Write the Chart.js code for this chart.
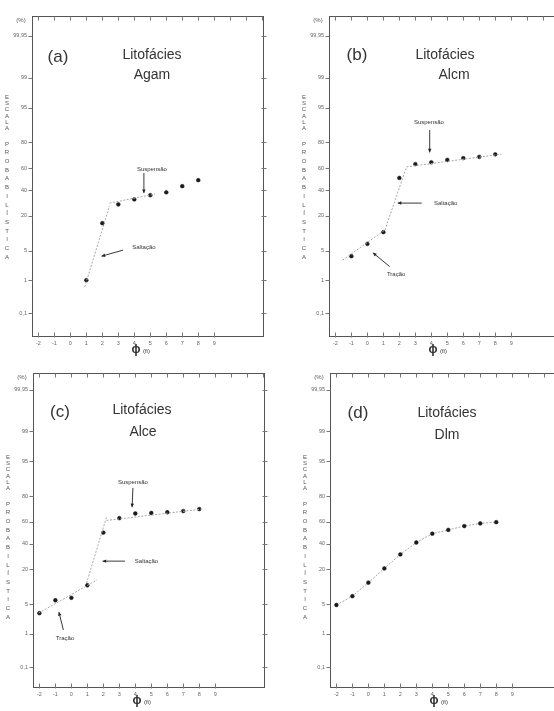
<!DOCTYPE html>
<html>
<head>
<meta charset="utf-8">
<title>Litofácies - escala probabilística</title>
<script src="https://cdn.jsdelivr.net/npm/chart.js@4.4.1/dist/chart.umd.min.js"></script>
<style>
	body{margin:0;background:#fff;font-family:"Liberation Sans",Arial,sans-serif;}
	#page{position:relative;width:554px;height:711px;overflow:hidden;background:#fff;}
	canvas{position:absolute;}
</style>
</head>
<body>
<div id="page">
	<canvas id="cA" width="280" height="360" style="left:0px;top:0px"></canvas>
	<canvas id="cB" width="280" height="360" style="left:297px;top:0px"></canvas>
	<canvas id="cC" width="280" height="354" style="left:1px;top:357px"></canvas>
	<canvas id="cD" width="280" height="354" style="left:298px;top:357px"></canvas>
</div>
<script>
// eixo x (phi) e eixo y (percentual acumulado, escala probabilistica)
const xTicks = [-2,-1,0,1,2,3,4,5,6,7,8,9];
const topTicks = [-2,-1,0,1,2,3,4,5,6,7,8,9,10,11,12];
const yTickPct = [0.1,1,5,20,40,60,80,95,99,99.95];
const yTickLabels = ['0,1','1','5','20','40','60','80','95','99','99,95'];

// (a) Agam
const phiA = [1,2,3,4,5,6,7,8];
const pctA = [1.0,15.5,28,32,35.5,38,43.5,49];
// (b) Alcm
const phiB = [-1,0,1,2,3,4,5,6,7,8];
const pctB = [3.8,6.8,11.1,51,63.5,65,67,68.5,69.5,71.5];
// (c) Alce
const phiC = [-2,-1,0,1,2,3,4,5,6,7,8];
const pctC = [3.2,6,6.7,11.3,50,63,67,67.4,68,69,70.6];
// (d) Dlm
const phiD = [-2,-1,0,1,2,3,4,5,6,7,8];
const pctD = [4.8,7.2,12.5,20.5,30.8,41,49,52.5,56,58.4,59.5];

// segmentos de ajuste [phi, %]
const fitA = [[[0.9,0.65],[2.45,27]], [[2.45,29],[5.3,36.5]]];
const fitB = [[[-1.55,3.1],[1.1,12.1]], [[1.1,12.1],[2.45,61]], [[2.45,61],[8.4,71.7]]];
const fitC = [[[-2.05,3.2],[1.6,13.8]], [[0.95,12.3],[2.2,64]], [[2.2,61],[8.1,70.5]]];

// inverse normal (Acklam)
function probit(p){
	p = p/100;
	var a=[-39.69683028665376,220.9460984245205,-275.9285104469687,138.3577518672690,-30.66479806614716,2.506628277459239];
	var b=[-54.47609879822406,161.5858368580409,-155.6989798598866,66.80131188771972,-13.28068155288572];
	var c=[-0.007784894002430293,-0.3223964580411365,-2.400758277161838,-2.549732539343734,4.374664141464968,2.938163982698783];
	var d=[0.007784695709041462,0.3224671290700398,2.445134137142996,3.754408661907416];
	var q,r;
	if(p<0.02425){
		q=Math.sqrt(-2*Math.log(p));
		return (((((c[0]*q+c[1])*q+c[2])*q+c[3])*q+c[4])*q+c[5])/((((d[0]*q+d[1])*q+d[2])*q+d[3])*q+1);
	}else if(p>1-0.02425){
		q=Math.sqrt(-2*Math.log(1-p));
		return -(((((c[0]*q+c[1])*q+c[2])*q+c[3])*q+c[4])*q+c[5])/((((d[0]*q+d[1])*q+d[2])*q+d[3])*q+1);
	}
	q=p-0.5;r=q*q;
	return (((((a[0]*r+a[1])*r+a[2])*r+a[3])*r+a[4])*r+a[5])*q/(((((b[0]*r+b[1])*r+b[2])*r+b[3])*r+b[4])*r+1);
}

const FONT = '"Liberation Sans",Arial,sans-serif';

// moldura, marcas e textos
const frame = {
	id:'frame',
	afterDraw(chart, args, o){
		var ctx=chart.ctx, a=chart.chartArea, x=chart.scales.x, y=chart.scales.y;
		var L=Math.round(a.left)+0.5, R=Math.round(a.right)+0.5, T=Math.round(a.top)+0.5, B=Math.round(a.bottom)+0.5;
		ctx.save();
		ctx.strokeStyle='#555';ctx.lineWidth=1;
		ctx.strokeRect(L,T,R-L,B-T);
		ctx.strokeStyle='#777';
		ctx.beginPath();
		topTicks.forEach(function(v){var px=Math.round(x.getPixelForValue(v))+0.5;ctx.moveTo(px,T);ctx.lineTo(px,T+4);});
		xTicks.forEach(function(v){var px=Math.round(x.getPixelForValue(v))+0.5;ctx.moveTo(px,B-4);ctx.lineTo(px,B+1);});
		yTickPct.forEach(function(p){var py=Math.round(y.getPixelForValue(probit(p)))+0.5;ctx.moveTo(L-4,py);ctx.lineTo(L,py);ctx.moveTo(R-2,py);ctx.lineTo(R+3,py);});
		ctx.stroke();

		ctx.fillStyle='#555';ctx.textAlign='center';ctx.textBaseline='middle';
		ctx.font='6px '+FONT;
		ctx.fillText('(%)',a.left-11,a.top+4);
		// titulo vertical
		var lx=a.left-25;
		'ESCALA'.split('').forEach(function(ch,i){ctx.fillText(ch,lx,a.top+o.y1+i*6.3);});
		'PROBABILÍSTICA'.split('').forEach(function(ch,i){ctx.fillText(ch,lx,a.top+o.y2+i*8.7);});
		// titulo x
		var cx=x.getPixelForValue(4.1);
		ctx.fillStyle='#333';ctx.font='bold 12px '+FONT;
		ctx.fillText('ϕ',cx,a.bottom+14);
		ctx.font='6px '+FONT;ctx.textAlign='left';
		ctx.fillText('(fi)',cx+7,a.bottom+15);

		// cabecalho do painel
		ctx.fillStyle='#333';ctx.textAlign='center';
		ctx.font='17px '+FONT;
		ctx.fillText(o.tag,a.left+o.tagPos[0],a.top+o.tagPos[1]);
		ctx.font='14px '+FONT;
		ctx.fillText('Litofácies',a.left+o.t1[0],a.top+o.t1[1]);
		ctx.fillText(o.name,a.left+o.t2[0],a.top+o.t2[1]);

		// anotacoes
		ctx.font='6px '+FONT;ctx.fillStyle='#333';
		(o.notes||[]).forEach(function(n){
			ctx.fillText(n.text,x.getPixelForValue(n.at[0]),y.getPixelForValue(probit(n.at[1])));
			var x1=x.getPixelForValue(n.from[0]),y1=y.getPixelForValue(probit(n.from[1]));
			var x2=x.getPixelForValue(n.to[0]),y2=y.getPixelForValue(probit(n.to[1]));
			ctx.strokeStyle='#222';ctx.lineWidth=0.9;
			ctx.beginPath();ctx.moveTo(x1,y1);ctx.lineTo(x2,y2);ctx.stroke();
			var ang=Math.atan2(y2-y1,x2-x1);
			ctx.beginPath();
			ctx.moveTo(x2,y2);
			ctx.lineTo(x2-4*Math.cos(ang-0.45),y2-4*Math.sin(ang-0.45));
			ctx.lineTo(x2-4*Math.cos(ang+0.45),y2-4*Math.sin(ang+0.45));
			ctx.closePath();ctx.fillStyle='#222';ctx.fill();ctx.fillStyle='#333';
		});
		ctx.restore();
	}
};

function makePanel(id, phi, pct, fits, yMin, yMax, opts, joinPoints){
	var datasets=[];
	(fits||[]).forEach(function(seg){
		datasets.push({
			data:seg.map(function(p){return {x:p[0],y:probit(p[1])};}),
			showLine:true,borderColor:'#a8a8a8',borderWidth:1,borderDash:[2,1.5],pointRadius:0
		});
	});
	datasets.push({
		data:phi.map(function(v,i){return {x:v,y:probit(pct[i])};}),
		showLine:!!joinPoints,borderColor:'#a8a8a8',borderWidth:1,borderDash:[2,1.5],
		pointRadius:1.9,pointBackgroundColor:'#1a1a1a',pointBorderColor:'#1a1a1a',pointBorderWidth:0.5
	});
	return new Chart(document.getElementById(id),{
		type:'scatter',
		data:{datasets:datasets},
		plugins:[frame],
		options:{
			responsive:false,animation:false,
			layout:{padding:{top:16,right:17,left:0,bottom:0}},
			plugins:{legend:{display:false},tooltip:{enabled:false},frame:opts},
			scales:{
				x:{type:'linear',min:-2.4,max:12.05,
					grid:{display:false,drawTicks:false},border:{display:false},
					afterBuildTicks:function(s){s.ticks=xTicks.map(function(v){return {value:v};});},
					afterFit:function(s){s.height=24;},
					ticks:{font:{size:5.5,family:FONT},color:'#666',padding:4,maxRotation:0,autoSkip:false}},
				y:{type:'linear',min:yMin,max:yMax,
					grid:{display:false,drawTicks:false},border:{display:false},
					afterBuildTicks:function(s){s.ticks=yTickPct.map(function(p){return {value:probit(p)};});},
					afterFit:function(s){s.width=32;},
					ticks:{font:{size:5.5,family:FONT},color:'#666',padding:5,autoSkip:false,
						callback:function(v,i){return yTickLabels[i];}}}
			}
		}
	});
}

makePanel('cA',phiA,pctA,fitA,-3.61,3.75,{
	tag:'(a)',tagPos:[26,41],t1:[120,39],name:'Agam',t2:[120,59],y1:81,y2:128,
	notes:[
		{text:'Suspensão',at:[5.1,59],from:[4.6,55.5],to:[4.6,37.4]},
		{text:'Saltação',at:[4.6,5.9],from:[3.3,5.1],to:[1.95,3.8]}
	]
});
makePanel('cB',phiB,pctB,fitB,-3.61,3.75,{
	tag:'(b)',tagPos:[28,39],t1:[116,39],name:'Alcm',t2:[125,59],y1:81,y2:128,
	notes:[
		{text:'Suspensão',at:[3.85,90.5],from:[3.9,87],to:[3.9,73]},
		{text:'Saltação',at:[4.9,29],from:[3.4,29],to:[1.9,29]},
		{text:'Tração',at:[1.8,1.45],from:[1.4,2.2],to:[0.35,4.5]}
	]
});
makePanel('cC',phiC,pctC,fitC,-3.55,3.67,{
	tag:'(c)',tagPos:[27,39],t1:[109,37],name:'Alce',t2:[110,59],y1:84,y2:131,
	notes:[
		{text:'Suspensão',at:[3.85,87.7],from:[3.85,84.8],to:[3.8,72]},
		{text:'Saltação',at:[4.7,25.6],from:[3.35,25.6],to:[1.95,25.6]},
		{text:'Tração',at:[-0.4,0.76],from:[-0.5,1.26],to:[-0.78,3.4]}
	]
});
makePanel('cD',phiD,pctD,null,-3.55,3.67,{
	tag:'(d)',tagPos:[28,40],t1:[117,40],name:'Dlm',t2:[117,62],y1:84,y2:131,
	notes:[]
},true);
</script>
</body>
</html>
